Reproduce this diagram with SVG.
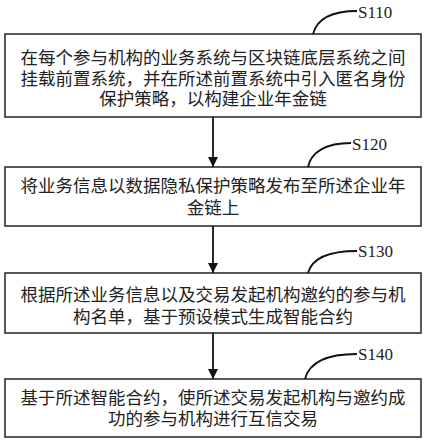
<svg xmlns="http://www.w3.org/2000/svg" width="425" height="443" viewBox="0 0 425 443">
<defs>
<marker id="ah" viewBox="0 0 10 10" refX="10" refY="5" markerWidth="10" markerHeight="10" markerUnits="userSpaceOnUse" orient="auto">
<path d="M0,0 L10,5 L0,10 Z" fill="#111"/>
</marker>
<style>
.box{fill:#fff;stroke:#222;stroke-width:1.5}
.t{font-family:"Liberation Serif","Noto Sans CJK SC",serif;font-size:17.5px;fill:#222;text-anchor:middle}
.lbl{font-family:"Liberation Serif",serif;font-size:17px;fill:#222}
.lead{fill:none;stroke:#111;stroke-width:1.8}
.conn{stroke:#111;stroke-width:1.8;fill:none}
</style>
</defs>
<rect width="425" height="443" fill="#fff"/>
<g id="connectors">
<line class="conn" x1="213" y1="117" x2="213" y2="167" marker-end="url(#ah)"/>
<line class="conn" x1="213" y1="226" x2="213" y2="273" marker-end="url(#ah)"/>
<line class="conn" x1="213" y1="333" x2="213" y2="379" marker-end="url(#ah)"/>
</g>
<g id="S110">
<rect class="box" x="5" y="34" width="416" height="83"/>
<text class="t"><tspan x="213" y="63.5">在每个参与机构的业务系统与区块链底层系统之间</tspan><tspan x="213" y="85">挂载前置系统，并在所述前置系统中引入匿名身份</tspan><tspan x="213" y="105">保护策略，以构建企业年金链</tspan></text>
<path class="lead" d="M313,34 C317,19 332,11 357,11"/>
<text class="lbl" x="358" y="18">S110</text>
</g>
<g id="S120">
<rect class="box" x="5" y="167" width="416" height="59"/>
<text class="t"><tspan x="213" y="191.5">将业务信息以数据隐私保护策略发布至所述企业年</tspan><tspan x="213" y="213.5">金链上</tspan></text>
<path class="lead" d="M308,167 C311,152 326,143 351,143"/>
<text class="lbl" x="352" y="150">S120</text>
</g>
<g id="S130">
<rect class="box" x="5" y="273" width="416" height="60"/>
<text class="t"><tspan x="213" y="300.5">根据所述业务信息以及交易发起机构邀约的参与机</tspan><tspan x="213" y="322.5">构名单，基于预设模式生成智能合约</tspan></text>
<path class="lead" d="M308,273 C312,258 328,251 357,251"/>
<text class="lbl" x="358" y="257">S130</text>
</g>
<g id="S140">
<rect class="box" x="5" y="379" width="416" height="58"/>
<text class="t"><tspan x="213" y="403.5">基于所述智能合约，使所述交易发起机构与邀约成</tspan><tspan x="213" y="424.5">功的参与机构进行互信交易</tspan></text>
<path class="lead" d="M305,379 C309,363 326,354 357,354"/>
<text class="lbl" x="358" y="360">S140</text>
</g>
</svg>
